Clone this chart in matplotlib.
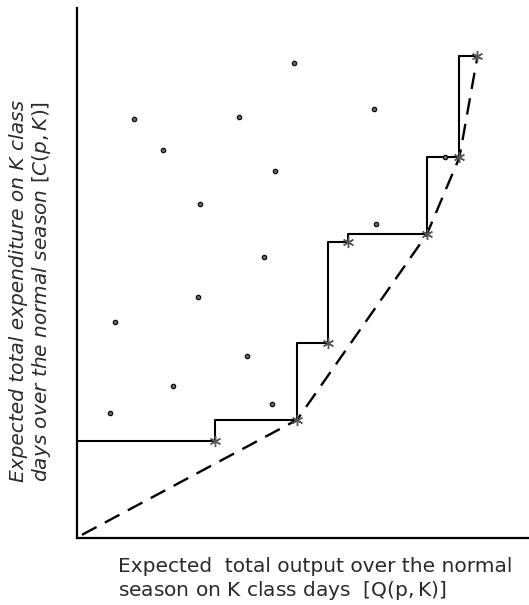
import matplotlib
matplotlib.use("Agg")
import matplotlib.pyplot as plt

# Asterisk points (efficient plans), arbitrary units 0..100
star_x = [30.5, 48.7, 55.5, 59.9, 77.4, 84.6, 88.6]
star_y = [18.3, 22.3, 36.7, 55.9, 57.3, 71.8, 90.9]

# Dashed lower envelope
hull_x = [1.1, 48.7, 77.4, 84.6, 88.6]
hull_y = [0.6, 22.3, 57.3, 71.8, 90.9]

# Scattered dots (other plans)
dot_x = [12.5, 19.1, 35.9, 27.2, 48.1, 65.6, 43.9, 66.1, 41.4, 26.8, 8.5, 37.5, 21.2, 43.2, 7.4, 81.4]
dot_y = [79.1, 73.2, 79.4, 63.0, 89.6, 81.0, 69.3, 59.2, 53.0, 45.5, 40.7, 34.4, 28.7, 25.3, 23.5, 71.9]

xlabel = "Expected  total output over the normal\nseason on K class days  $\\left[\\mathrm{Q(p,K)}\\right]$"
ylabel = "Expected total expenditure on K class\ndays over the normal season $\\left[\\mathit{C(p,K)}\\right]$"

W, H = 529, 605
plt.rcParams["mathtext.fontset"] = "dejavusans"
fig = plt.figure(figsize=(W / 100, H / 100), dpi=100)
ax = fig.add_axes([77 / W, (H - 538) / H, 452 / W, 530 / H])
ax.set_xlim(0, 100)
ax.set_ylim(0, 100)
for s in ["top", "right"]:
    ax.spines[s].set_visible(False)
for s in ["left", "bottom"]:
    ax.spines[s].set_linewidth(1.6)
ax.set_xticks([])
ax.set_yticks([])

# step line from the vertical axis through the asterisks
ax.plot([0] + star_x, [star_y[0]] + star_y, drawstyle="steps-pre",
        color="black", lw=1.5, zorder=2)
# dashed envelope
ax.plot(hull_x, hull_y, color="black", lw=1.7, dashes=(7, 4), zorder=2)
# asterisks
ax.plot(star_x, star_y, ls="none", marker=(6, 2, 0), markersize=8,
        color="#555555", mew=1.0, zorder=3)
# dots
ax.plot(dot_x, dot_y, ls="none", marker="o", markersize=3.2,
        markerfacecolor="#666666", markeredgecolor="black", mew=0.8, zorder=3)

fig.text(118 / W, 1 - 557 / H, xlabel, ha="left", va="top", fontsize=14.5,
         linespacing=1.15, color="#2a2a2a")
fig.text(31 / W, 1 - 291 / H, ylabel, ha="center", va="center", rotation=90,
         fontsize=14.5, style="italic", linespacing=1.1, color="#2a2a2a",
         multialignment="center")

fig.savefig("out.png", dpi=100)
